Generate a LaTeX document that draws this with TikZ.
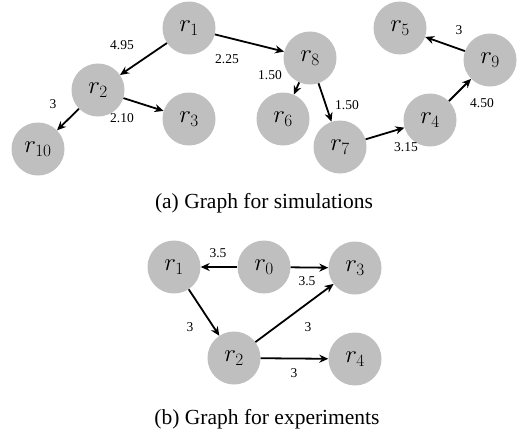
\documentclass[tikz,border=0pt]{standalone}
\usepackage{fontspec}
\setmainfont{Liberation Serif}
\usetikzlibrary{arrows.meta,positioning}

\begin{document}
\begin{tikzpicture}[x=1pt, y=-1pt,
    robot/.style={circle, fill=black!25, minimum size=53pt, inner sep=0pt, font=\fontsize{26}{28}\selectfont},
    link/.style={-{Stealth[length=9pt,width=8pt]}, line width=1.8pt},
    wlbl/.style={font=\fontsize{13.5}{15}\selectfont, inner sep=1pt},
    capt/.style={font=\fontsize{21.5}{24}\selectfont}]
    \useasboundingbox (0,0) rectangle (521,429);

    % (a) graph for simulations
    \node[robot] (a1) at (189,28) {$r_1$};
    \node[robot] (a2) at (98,90) {$r_2$};
    \node[robot] (a3) at (189,119) {$r_3$};
    \node[robot] (a10) at (38,149) {$r_{10}$};
    \node[robot] (a8) at (310,58) {$r_8$};
    \node[robot] (a6) at (283,119) {$r_6$};
    \node[robot] (a7) at (340,147) {$r_7$};
    \node[robot] (a4) at (430,120) {$r_4$};
    \node[robot] (a9) at (490,60) {$r_9$};
    \node[robot] (a5) at (400,28) {$r_5$};

    \draw[link] (a1) -- (a2);
    \draw[link] (a1) -- (a8);
    \draw[link] (a2) -- (a10);
    \draw[link] (a2) -- (a3);
    \draw[link] (a8) -- (a6);
    \draw[link] (a8) -- (a7);
    \draw[link] (a7) -- (a4);
    \draw[link] (a4) -- (a9);
    \draw[link] (a9) -- (a5);

    % weights
    \node[wlbl] (w12) at (122,45) {4.95};
    \node[wlbl] (w18) at (227,59) {2.25};
    \node[wlbl] (w210) at (53,104) {3};
    \node[wlbl] (w23) at (122,118) {2.10};
    \node[wlbl] (w86) at (270,75) {1.50};
    \node[wlbl] (w87) at (347,105) {1.50};
    \node[wlbl] (w74) at (406,147) {3.15};
    \node[wlbl] (w49) at (482,103) {4.50};
    \node[wlbl] (w95) at (459,30) {3};

    \node[capt] (capa) at (264,203) {(a) Graph for simulations};

    % (b) graph for experiments
    \node[robot] (b1) at (174,267) {$r_1$};
    \node[robot] (b0) at (264,267) {$r_0$};
    \node[robot] (b3) at (355,268) {$r_3$};
    \node[robot] (b2) at (234,358) {$r_2$};
    \node[robot] (b4) at (355,359) {$r_4$};

    \draw[link] (b0) -- (b1);
    \draw[link] (b0) -- (b3);
    \draw[link] (b1) -- (b2);
    \draw[link] (b2) -- (b3);
    \draw[link] (b2) -- (b4);

    \node[wlbl] (v01) at (218,253) {3.5};
    \node[wlbl] (v03) at (307,281) {3.5};
    \node[wlbl] (v12) at (190,327) {3};
    \node[wlbl] (v23) at (308,327) {3};
    \node[wlbl] (v24) at (294,373) {3};

    \node[capt] (capb) at (267,419) {(b) Graph for experiments};
\end{tikzpicture}
\end{document}
